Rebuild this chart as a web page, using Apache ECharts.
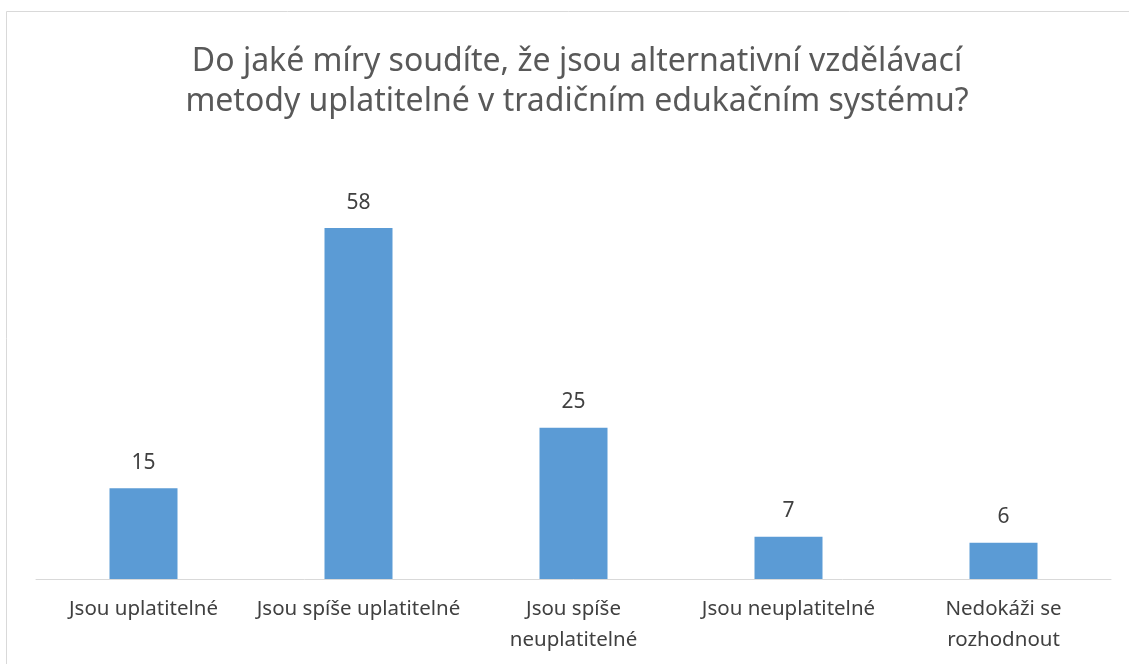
<!DOCTYPE html>
<html>
<head>
<meta charset="utf-8">
<script src="https://cdn.jsdelivr.net/npm/echarts@6/dist/echarts.min.js"></script>
<style>
html,body{margin:0;padding:0;background:#fff;}
#c{width:1129px;height:664px;}
</style>
</head>
<body>
<div id="c"></div>
<script>
const titleText = 'Do jaké míry soudíte, že jsou alternativní vzdělávací\nmetody uplatitelné v tradičním edukačním systému?';
const categories = ['Jsou uplatitelné', 'Jsou spíše uplatitelné', 'Jsou spíše\nneuplatitelné', 'Jsou neuplatitelné', 'Nedokáži se\nrozhodnout'];
const values = [15, 58, 25, 7, 6];

const chart = echarts.init(document.getElementById('c'));
const font = 'Noto Sans';
chart.setOption({
  animation: false,
  backgroundColor: '#fff',
  graphic: [{
    type: 'rect', silent: true,
    shape: {x: 6.5, y: 11.5, width: 1140, height: 700},
    style: {fill: 'none', stroke: '#d9d9d9', lineWidth: 1}
  }],
  title: {
    text: titleText,
    left: 572,
    textAlign: 'center',
    top: 37,
    textStyle: {fontFamily: font, fontSize: 32, fontWeight: 'normal', color: '#595959', lineHeight: 40}
  },
  grid: {left: 36, right: 18, top: 216, bottom: 85, containLabel: false},
  xAxis: {
    type: 'category',
    data: categories,
    axisLine: {lineStyle: {color: '#d9d9d9', width: 1}},
    axisTick: {show: false},
    axisLabel: {fontFamily: font, fontSize: 20.5, color: '#404040', lineHeight: 31, margin: 15, interval: 0}
  },
  yAxis: {
    type: 'value', min: 0, max: 60,
    show: false,
    splitLine: {show: false}
  },
  series: [{
    type: 'bar',
    data: values,
    barWidth: 68,
    itemStyle: {color: '#5b9bd5'},
    label: {show: true, position: 'top', distance: 15, fontFamily: font, fontSize: 21, color: '#404040'}
  }]
});
</script>
</body>
</html>
